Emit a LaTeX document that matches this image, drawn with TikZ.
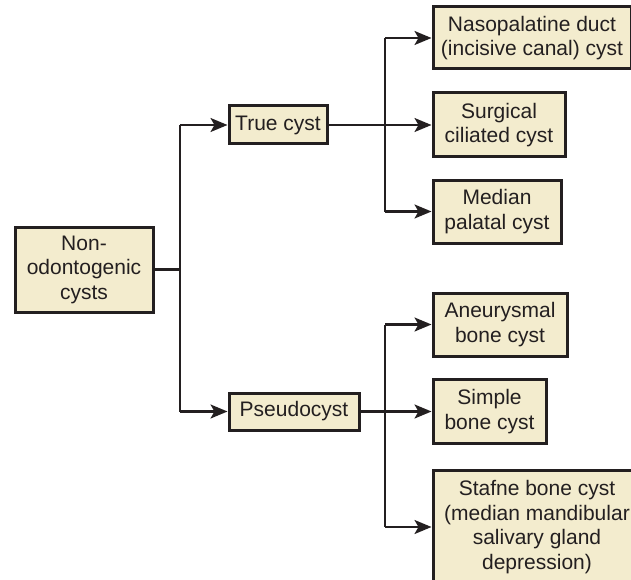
\documentclass[tikz,border=0pt]{standalone}
\usepackage{fontspec}
\setmainfont{Liberation Sans}
\usetikzlibrary{arrows.meta}
\definecolor{boxfill}{RGB}{243,236,206}
\definecolor{ink}{RGB}{35,31,32}
\begin{document}
\begin{tikzpicture}[x=1pt,y=-1pt,
  box/.style={draw=ink,line width=3pt,fill=boxfill,align=center,inner sep=0pt,
    font=\fontsize{21}{24.5}\selectfont,text=ink},
  conn/.style={draw=ink,line width=2.2pt},
  arr/.style={conn,-{Stealth[length=17pt,width=14pt,inset=4pt]}}]
\useasboundingbox (0,0) rectangle (631,580);
\node[box,minimum width=138pt,minimum height=85pt] (non) at (84,269.5) {Non-\\odontogenic\\cysts};
\node[box,minimum width=98pt,minimum height=38pt] (true) at (278,125) {True cyst};
\node[box,minimum width=130pt,minimum height=37pt] (pseudo) at (294,411.5) {Pseudocyst};
\node[box,minimum width=198pt,minimum height=62pt] (naso) at (532,38) {Nasopalatine duct\\(incisive canal) cyst};
\node[box,minimum width=132pt,minimum height=64pt] (surg) at (499,125) {Surgical\\ciliated cyst};
\node[box,minimum width=128pt,minimum height=63pt] (median) at (497,211.5) {Median\\palatal cyst};
\node[box,minimum width=134pt,minimum height=63pt] (aneur) at (500,324.5) {Aneurysmal\\bone cyst};
\node[box,minimum width=113pt,minimum height=64pt] (simple) at (489.5,411.5) {Simple\\bone cyst};
\node[box,minimum width=208pt,minimum height=114pt] (stafne) at (537,527) {Stafne bone cyst\\(median mandibular\\salivary gland\\depression)};
\coordinate (t1) at (180,269.5);
\coordinate (t2) at (385,125);
\coordinate (t3) at (385,411.5);
% trunk 1
\draw[conn] (non.east) -- (t1);
\draw[conn] (t1 |- true.west) -- (t1 |- pseudo.west);
\draw[arr] (t1 |- true.west) -- (true.west);
\draw[arr] (t1 |- pseudo.west) -- (pseudo.west);
% trunk 2
\draw[conn] (t2 |- naso.west) -- (t2 |- median.west);
\draw[arr] (true.east) -- (surg.west);
\draw[arr] (t2 |- naso.west) -- (naso.west);
\draw[arr] (t2 |- median.west) -- (median.west);
% trunk 3
\draw[conn] (t3 |- aneur.west) -- (t3 |- stafne.west);
\draw[arr] (pseudo.east) -- (simple.west);
\draw[arr] (t3 |- aneur.west) -- (aneur.west);
\draw[arr] (t3 |- stafne.west) -- (stafne.west);
\end{tikzpicture}
\end{document}
